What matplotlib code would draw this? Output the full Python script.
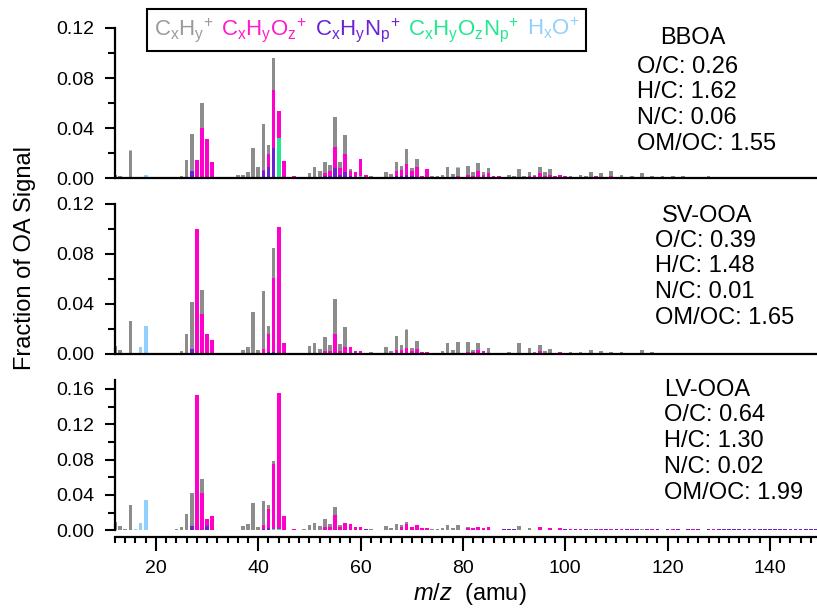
import numpy as np
import matplotlib
matplotlib.use('Agg')
from matplotlib import pyplot as plt
from matplotlib.patches import Patch
from matplotlib.ticker import MultipleLocator, FormatStrFormatter

plt.rcParams['font.family'] = ['Liberation Sans', 'DejaVu Sans']
plt.rcParams['mathtext.fontset'] = 'custom'
plt.rcParams['mathtext.rm'] = 'Liberation Sans'
plt.rcParams['mathtext.it'] = 'Liberation Sans:italic'
plt.rcParams['mathtext.bf'] = 'Liberation Sans:bold'

# ---------- DATA -------------------------------------------------------------
mz = np.arange(12, 150)

families = ['CxHyOzNp', 'CxHyNp', 'CxHyOz', 'CxHy', 'HxO']   # stacking order
colors = {'CxHy': '#8c8c8c', 'CxHyOz': '#ff00cc', 'CxHyNp': '#6c22d4',
          'CxHyOzNp': '#22e88e', 'HxO': '#8fd0ff'}
legend_labels = [r'$\mathregular{C_xH_y{}^{+}}$',
                 r'$\mathregular{C_xH_yO_z{}^{+}}$',
                 r'$\mathregular{C_xH_yN_p{}^{+}}$',
                 r'$\mathregular{C_xH_yO_zN_p{}^{+}}$',
                 r'$\mathregular{H_xO{}^{+}}$']
legend_colors = ['#9a9a9a', '#ff1acc', '#6c22d4', '#22e88e', '#8fd0ff']

# BBOA
bboa_cxhy = {12: 0.0027, 13: 0.002, 14: 0.0008, 15: 0.022, 24: 0.0007, 25: 0.002,
             26: 0.0137, 27: 0.0295, 29: 0.0205, 36: 0.0027, 37: 0.0027, 38: 0.005,
             39: 0.0243, 40: 0.0088, 41: 0.0362, 42: 0.007, 43: 0.0255, 49: 0.0008,
             50: 0.0045, 51: 0.0088, 52: 0.0049, 53: 0.0088, 54: 0.0049, 55: 0.0235,
             56: 0.0043, 57: 0.0155, 58: 0.0015, 62: 0.0018, 63: 0.0008, 65: 0.0053,
             66: 0.0035, 67: 0.0068, 68: 0.0031, 69: 0.0123, 70: 0.0025, 71: 0.0062,
             74: 0.002, 75: 0.002, 76: 0.0027, 77: 0.0088, 78: 0.0035, 79: 0.0065,
             80: 0.001, 81: 0.0071, 82: 0.0033, 83: 0.006, 84: 0.0018, 85: 0.004,
             88: 0.0008, 89: 0.0027, 90: 0.002, 91: 0.0075, 92: 0.0015, 93: 0.0033,
             94: 0.0015, 95: 0.0048, 96: 0.003, 97: 0.0045, 101: 0.002, 103: 0.002,
             104: 0.0015, 105: 0.004, 107: 0.003, 109: 0.004, 111: 0.002, 113: 0.0015,
             115: 0.004, 117: 0.002, 119: 0.002, 121: 0.002, 123: 0.0015, 125: 0.0012,
             127: 0.001, 128: 0.0015, 129: 0.001, 131: 0.001, 133: 0.0008, 135: 0.001,
             137: 0.0008, 139: 0.0008, 141: 0.0008, 143: 0.0008, 145: 0.0008,
             147: 0.0006, 149: 0.0006}
bboa_cxhyoz = {28: 0.0142, 29: 0.04, 30: 0.031, 31: 0.0133, 41: 0.001, 42: 0.0101,
               43: 0.046, 44: 0.022, 45: 0.0129, 46: 0.0005, 47: 0.002, 53: 0.002,
               54: 0.0035, 55: 0.0168, 56: 0.006, 57: 0.0139, 58: 0.004, 59: 0.0048,
               60: 0.0132, 61: 0.0027, 67: 0.004, 68: 0.005, 69: 0.0082, 70: 0.0038,
               71: 0.009, 72: 0.002, 73: 0.0072, 79: 0.002, 81: 0.003, 82: 0.002,
               83: 0.006, 84: 0.003, 85: 0.004, 86: 0.0015, 87: 0.0015, 93: 0.002,
               94: 0.0015, 95: 0.004, 96: 0.002, 97: 0.003, 98: 0.002, 99: 0.003,
               100: 0.0015, 102: 0.001, 103: 0.001, 105: 0.001, 106: 0.0015, 107: 0.001,
               108: 0.001, 109: 0.0015, 110: 0.001, 111: 0.001, 112: 0.001, 114: 0.001,
               116: 0.001, 118: 0.001, 120: 0.001, 122: 0.001, 124: 0.001, 126: 0.001,
               130: 0.001, 132: 0.001, 134: 0.0009, 136: 0.0009, 138: 0.0009,
               140: 0.0009, 142: 0.0009, 144: 0.0009, 146: 0.0009, 148: 0.0009}
bboa_cxhynp = {22: 0.0004, 26: 0.001, 27: 0.006, 28: 0.0005, 41: 0.006, 42: 0.0083,
               43: 0.0235, 52: 0.001, 53: 0.002, 54: 0.002, 55: 0.0085, 56: 0.0025,
               57: 0.0053, 58: 0.002, 67: 0.002, 68: 0.002, 69: 0.003, 70: 0.002}
bboa_cxhyoznp = {42: 0.001, 43: 0.001, 44: 0.032, 45: 0.001, 60: 0.002}
bboa_hxo = {15: 0.0003, 16: 0.0005, 17: 0.0008, 18: 0.0025, 79: 0.0005}

# SV-OOA
svooa_cxhy = {12: 0.0067, 13: 0.0032, 14: 0.001, 15: 0.0264, 24: 0.0008, 25: 0.0027,
              26: 0.016, 27: 0.038, 29: 0.0195, 36: 0.001, 37: 0.0032, 38: 0.0059,
              39: 0.0339, 40: 0.003, 41: 0.0464, 42: 0.0064, 43: 0.0237, 49: 0.001,
              50: 0.0064, 51: 0.0085, 52: 0.0043, 53: 0.0113, 54: 0.0051, 55: 0.028,
              56: 0.0053, 57: 0.0157, 62: 0.0013, 63: 0.0008, 65: 0.0059, 66: 0.0024,
              67: 0.0114, 68: 0.0037, 69: 0.0142, 70: 0.0025, 71: 0.0058, 74: 0.001,
              75: 0.001, 76: 0.0024, 77: 0.0088, 78: 0.003, 79: 0.0096, 81: 0.008,
              82: 0.0019, 83: 0.0053, 85: 0.0035, 89: 0.0013, 91: 0.009, 93: 0.0045,
              94: 0.0016, 95: 0.0051, 96: 0.0012, 97: 0.0033, 101: 0.0015, 103: 0.0015,
              105: 0.0035, 107: 0.0025, 109: 0.002, 111: 0.0015, 115: 0.003, 117: 0.0015,
              119: 0.0012, 121: 0.0012, 123: 0.001, 128: 0.001, 131: 0.001,
              135: 0.001, 139: 0.0009, 143: 0.0009, 147: 0.0009}
svooa_cxhyoz = {28: 0.1, 29: 0.0317, 30: 0.016, 31: 0.0112, 41: 0.0032, 42: 0.0147,
                43: 0.0598, 44: 0.101, 45: 0.0085, 53: 0.002, 54: 0.0021, 55: 0.016,
                56: 0.0027, 57: 0.0059, 58: 0.0053, 59: 0.0024, 60: 0.0024, 67: 0.003,
                68: 0.0032, 69: 0.005, 70: 0.0025, 71: 0.0043, 72: 0.0013, 73: 0.0013,
                81: 0.0016, 82: 0.0016, 83: 0.0032, 84: 0.0021, 85: 0.001, 95: 0.0024,
                96: 0.0012, 97: 0.001, 98: 0.0008, 99: 0.0013, 100: 0.001, 102: 0.001,
                104: 0.001, 106: 0.001, 108: 0.001, 110: 0.001, 112: 0.001,
                114: 0.0009, 116: 0.0009, 118: 0.0009, 120: 0.0009, 122: 0.0009,
                125: 0.0009, 127: 0.0009, 129: 0.0009, 133: 0.0009, 137: 0.0009,
                141: 0.0009, 145: 0.0009, 149: 0.0009}
svooa_cxhynp = {22: 0.0005, 27: 0.004, 41: 0.0008, 42: 0.0016, 43: 0.0008, 47: 0.001,
                53: 0.0005}
svooa_cxhyoznp = {43: 0.0005, 44: 0.0005}
svooa_hxo = {16: 0.0008, 17: 0.0053, 18: 0.0221, 61: 0.0005, 69: 0.0005, 87: 0.0005}

# LV-OOA
lvooa_cxhy = {12: 0.0094, 13: 0.0045, 14: 0.001, 15: 0.0287, 24: 0.0014, 25: 0.0038,
              26: 0.0185, 27: 0.0366, 29: 0.0151, 37: 0.0045, 38: 0.0068, 39: 0.0313,
              40: 0.0034, 41: 0.0272, 42: 0.0042, 43: 0.0034, 49: 0.0015, 50: 0.006,
              51: 0.0079, 52: 0.0049, 53: 0.0086, 54: 0.003, 55: 0.0087, 56: 0.0018,
              62: 0.0015, 65: 0.0045, 66: 0.0023, 67: 0.0075, 68: 0.0015, 69: 0.0019,
              74: 0.0019, 75: 0.0019, 76: 0.0023, 77: 0.0057, 78: 0.0023, 79: 0.0057,
              81: 0.0015, 91: 0.0049, 93: 0.0023, 105: 0.0012, 115: 0.0012}
lvooa_cxhyoz = {28: 0.1525, 29: 0.0426, 30: 0.0075, 31: 0.0166, 41: 0.0045, 42: 0.0222,
                43: 0.0731, 44: 0.153, 45: 0.0162, 47: 0.0015, 53: 0.0042, 54: 0.0042,
                55: 0.0177, 56: 0.0042, 57: 0.0079, 58: 0.0068, 59: 0.0034, 60: 0.0034,
                68: 0.0042, 69: 0.0075, 70: 0.0034, 71: 0.0057, 72: 0.0026, 73: 0.0026,
                81: 0.0023, 82: 0.003, 83: 0.0042, 84: 0.0026, 85: 0.0038, 86: 0.0008,
                87: 0.0008, 95: 0.0034, 97: 0.0023, 99: 0.0023, 101: 0.0012, 103: 0.0012,
                107: 0.0012, 109: 0.0012, 111: 0.0011, 113: 0.0011, 117: 0.001,
                121: 0.001, 125: 0.001, 129: 0.001}
lvooa_cxhynp = {22: 0.0008, 27: 0.0053, 30: 0.0053, 36: 0.0008, 41: 0.0015, 42: 0.0023,
                61: 0.0015, 88: 0.0011, 89: 0.0011, 90: 0.0011, 100: 0.0011, 102: 0.0011,
                104: 0.0011, 106: 0.0011, 108: 0.0011, 110: 0.0011, 112: 0.0011,
                114: 0.0011, 116: 0.0011, 118: 0.0011, 120: 0.0011, 122: 0.0011,
                124: 0.0011, 126: 0.0011, 128: 0.0011, 130: 0.0011, 131: 0.001,
                132: 0.0011, 133: 0.001, 134: 0.0011, 135: 0.001, 136: 0.0011,
                137: 0.001, 138: 0.0011, 139: 0.001, 140: 0.0011, 141: 0.001,
                142: 0.0011, 143: 0.001, 144: 0.0011, 145: 0.001, 146: 0.0011,
                147: 0.001, 148: 0.0011, 149: 0.001}
lvooa_cxhyoznp = {28: 0.0008, 43: 0.002, 44: 0.002}
lvooa_hxo = {16: 0.0015, 17: 0.0083, 18: 0.0343, 24: 0.0005, 65: 0.0005}

panel_names = ['BBOA', 'SV-OOA', 'LV-OOA']
oc = ['0.26', '0.39', '0.64']
hc = ['1.62', '1.48', '1.30']
nc = ['0.06', '0.01', '0.02']
omoc = ['1.55', '1.65', '1.99']

panel_data = [
    [bboa_cxhyoznp, bboa_cxhynp, bboa_cxhyoz, bboa_cxhy, bboa_hxo],
    [svooa_cxhyoznp, svooa_cxhynp, svooa_cxhyoz, svooa_cxhy, svooa_hxo],
    [lvooa_cxhyoznp, lvooa_cxhynp, lvooa_cxhyoz, lvooa_cxhy, lvooa_hxo],
]

# ---------- LAYOUT (pixels of the 817x608 figure) ------------------------------
W, H = 817.0, 608.0
x0_px, x1_px = 115.0, 817.0
panel_px = [(28.0, 178.3), (204.0, 354.0), (380.0, 530.3)]
ylims = [0.12, 0.12, 0.17]
ytop_ticks = [0.12, 0.12, 0.16]
text_px = [(660, 637, [38, 67, 92, 118, 144]),
           (662, 655, [216, 241, 266, 292, 318]),
           (664, 664, [390, 415, 441, 467, 493])]

fig = plt.figure(figsize=(8.17, 6.08), dpi=100)

for i in range(3):
    top, bot = panel_px[i]
    ax = fig.add_axes([x0_px / W, 1 - bot / H, (x1_px - x0_px) / W, (bot - top) / H])
    bottom = np.zeros(len(mz))
    for fam, d in zip(families, panel_data[i]):
        vals = np.array([d.get(m, 0.0) for m in mz])
        ax.bar(mz, vals, width=0.72, bottom=bottom, color=colors[fam], linewidth=0)
        bottom += vals

    ax.set_xlim(12, 149.2)
    ax.set_ylim(0, ylims[i])
    ax.spines['top'].set_visible(False)
    ax.spines['right'].set_visible(False)
    for s in ['left', 'bottom']:
        ax.spines[s].set_linewidth(1.6)
    ax.yaxis.set_minor_locator(MultipleLocator(0.02))
    ax.yaxis.set_major_formatter(FormatStrFormatter('%.2f'))
    ax.set_yticks(np.arange(0, ytop_ticks[i] + 0.001, 0.04))
    ax.tick_params(axis='y', which='major', length=7, width=1.5, pad=8, labelsize=14)
    ax.tick_params(axis='y', which='minor', length=5, width=1.5)
    if i < 2:
        ax.tick_params(axis='x', which='both', bottom=False, labelbottom=False)
    else:
        ax.spines['bottom'].set_position(('outward', 4.5))
        ax.xaxis.set_major_locator(MultipleLocator(20))
        ax.xaxis.set_minor_locator(MultipleLocator(2))
        ax.tick_params(axis='x', which='major', length=10, width=1.5, pad=7, labelsize=14)
        ax.tick_params(axis='x', which='minor', length=4.5, width=1.5)

    tx, bx, ys = text_px[i]
    lines = [panel_names[i], 'O/C: ' + oc[i], 'H/C: ' + hc[i],
             'N/C: ' + nc[i], 'OM/OC: ' + omoc[i]]
    for j, line in enumerate(lines):
        xx = tx if j == 0 else bx
        fig.text(xx / W, 1 - ys[j] / H, line, fontsize=17, va='center', ha='left')

handles = [Patch(visible=False) for _ in legend_labels]
leg = fig.legend(handles, legend_labels, loc='center',
                 bbox_to_anchor=(366.5 / W, 1 - 30 / H), ncol=5,
                 handlelength=0, handletextpad=0, columnspacing=0.35,
                 fontsize=16, frameon=True, fancybox=False, edgecolor='black',
                 labelcolor=legend_colors, borderpad=0.3, framealpha=1)
leg.get_frame().set_linewidth(1.5)

fig.text(25 / W, 1 - 258 / H, 'Fraction of OA Signal', rotation=90,
         fontsize=17, va='center', ha='center')
fig.text(470 / W, 1 - 594 / H, r'$\mathit{m/z}$  (amu)', fontsize=17,
         va='center', ha='center')

fig.savefig('out.png', dpi=100)
